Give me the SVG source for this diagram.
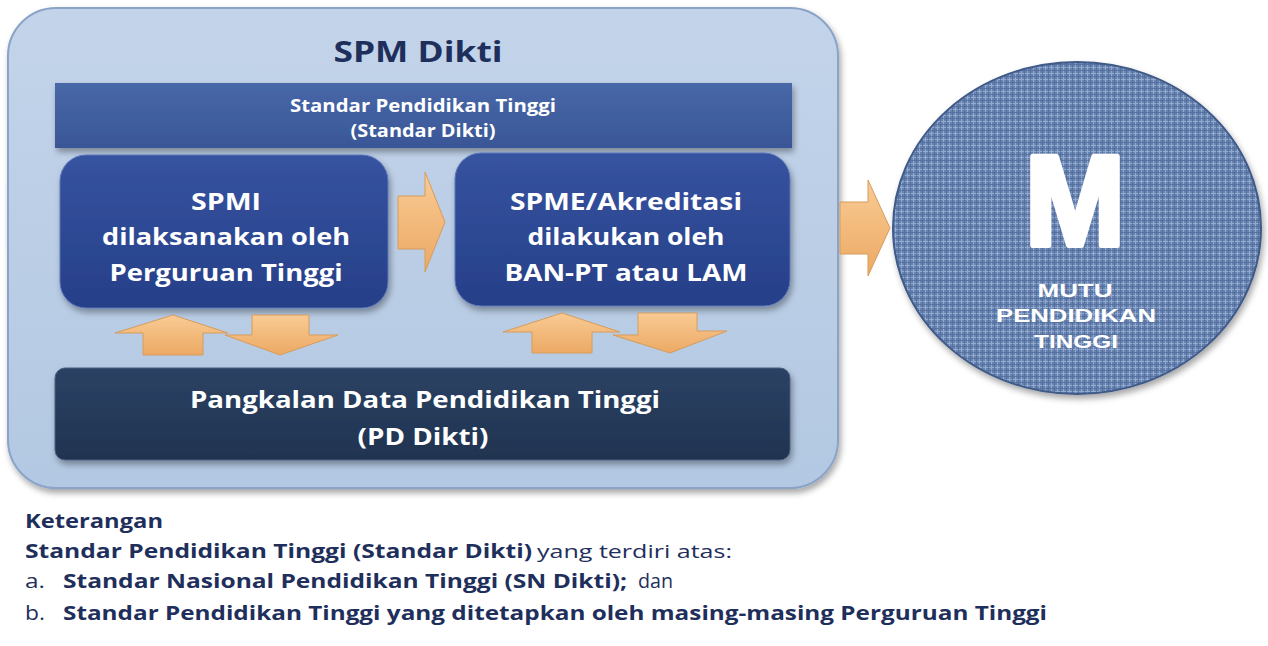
<svg xmlns="http://www.w3.org/2000/svg" width="1268" height="646" viewBox="0 0 1268 646">
<defs>
<style>
.t{font-family:"Open Sans","Noto Sans",sans-serif;font-weight:bold;fill:#fff}
.n{font-family:"Open Sans","Noto Sans",sans-serif;fill:#1f2f5c}
.b{font-weight:bold}
.arr{fill:url(#ag);stroke:#d69c5c;stroke-width:1}
</style>
<linearGradient id="og" x1="0" y1="0" x2="0" y2="1"><stop offset="0" stop-color="#c3d4ea"/><stop offset="1" stop-color="#b3c8e2"/></linearGradient>
<linearGradient id="bg" x1="0" y1="0" x2="0" y2="1"><stop offset="0" stop-color="#4868a8"/><stop offset="1" stop-color="#3a5696"/></linearGradient>
<linearGradient id="kg" x1="0" y1="0" x2="0" y2="1"><stop offset="0" stop-color="#3653a0"/><stop offset="1" stop-color="#263f88"/></linearGradient>
<linearGradient id="pg" x1="0" y1="0" x2="0" y2="1"><stop offset="0" stop-color="#2c4264"/><stop offset="1" stop-color="#1f3350"/></linearGradient>
<linearGradient id="ag" x1="0" y1="0" x2="0" y2="1"><stop offset="0" stop-color="#f9cb94"/><stop offset="1" stop-color="#eca964"/></linearGradient>
<pattern id="tex" width="6" height="6" patternUnits="userSpaceOnUse">
<rect width="6" height="6" fill="#6782b0"/>
<path d="M0 1.5H6M1.5 0V6" stroke="#93aad0" stroke-width="1"/>
<path d="M0 4.5H6M4.5 0V6" stroke="#526d9c" stroke-width="0.8"/>
</pattern>
<filter id="sh" x="-10%" y="-10%" width="120%" height="130%"><feDropShadow dx="2" dy="4" stdDeviation="3" flood-color="#000" flood-opacity="0.35"/></filter>
</defs>
<rect width="1268" height="646" fill="#fff"/>

<g id="spm-dikti">
<rect x="8" y="8" width="830" height="480" rx="48" fill="url(#og)" stroke="#8aa3c6" stroke-width="2" filter="url(#sh)"/>
<text x="418" y="62" text-anchor="middle" class="n b" font-size="29" textLength="169" lengthAdjust="spacingAndGlyphs">SPM Dikti</text>
</g>

<g id="standar-dikti">
<rect x="55" y="83" width="737" height="65" fill="url(#bg)" filter="url(#sh)"/>
<text x="423" y="112" text-anchor="middle" class="t" font-size="17" textLength="266" lengthAdjust="spacingAndGlyphs">Standar Pendidikan Tinggi</text>
<text x="423" y="137" text-anchor="middle" class="t" font-size="17" textLength="145" lengthAdjust="spacingAndGlyphs">(Standar Dikti)</text>
</g>

<g id="spmi">
<rect x="60" y="155" width="328" height="153" rx="26" fill="url(#kg)" stroke="#5a76b8" stroke-width="1" filter="url(#sh)"/>
<text x="226" y="210" text-anchor="middle" class="t" font-size="24" textLength="70" lengthAdjust="spacingAndGlyphs">SPMI</text>
<text x="226" y="245" text-anchor="middle" class="t" font-size="24" textLength="248" lengthAdjust="spacingAndGlyphs">dilaksanakan oleh</text>
<text x="226" y="281" text-anchor="middle" class="t" font-size="24" textLength="233" lengthAdjust="spacingAndGlyphs">Perguruan Tinggi</text>
</g>

<g id="spme">
<rect x="455" y="153" width="335" height="153" rx="26" fill="url(#kg)" stroke="#5a76b8" stroke-width="1" filter="url(#sh)"/>
<text x="626" y="210" text-anchor="middle" class="t" font-size="24" textLength="232" lengthAdjust="spacingAndGlyphs">SPME/Akreditasi</text>
<text x="626" y="245" text-anchor="middle" class="t" font-size="24" textLength="197" lengthAdjust="spacingAndGlyphs">dilakukan oleh</text>
<text x="626" y="281" text-anchor="middle" class="t" font-size="24" textLength="243" lengthAdjust="spacingAndGlyphs">BAN-PT atau LAM</text>
</g>

<g id="pd-dikti">
<rect x="55" y="368" width="735" height="92" rx="10" fill="url(#pg)" stroke="#4a5f80" stroke-width="1" filter="url(#sh)"/>
<text x="425" y="408" text-anchor="middle" class="t" font-size="24" textLength="470" lengthAdjust="spacingAndGlyphs">Pangkalan Data Pendidikan Tinggi</text>
<text x="423" y="445" text-anchor="middle" class="t" font-size="24" textLength="131" lengthAdjust="spacingAndGlyphs">(PD Dikti)</text>
</g>

<g id="mutu">
<ellipse cx="1077" cy="228" rx="184" ry="166" fill="url(#tex)" stroke="#3f5a88" stroke-width="2" filter="url(#sh)"/>
<text x="1075" y="245" text-anchor="middle" font-family="Liberation Sans,Arial,sans-serif" font-weight="bold" font-size="128" fill="#fff" stroke="#fff" stroke-width="6" stroke-linejoin="round" textLength="100" lengthAdjust="spacingAndGlyphs">M</text>
<text x="1075" y="297" text-anchor="middle" font-family="Liberation Sans,Arial,sans-serif" font-weight="bold" font-size="18" fill="#fff" textLength="75" lengthAdjust="spacingAndGlyphs">MUTU</text>
<text x="1076" y="322" text-anchor="middle" font-family="Liberation Sans,Arial,sans-serif" font-weight="bold" font-size="18" fill="#fff" textLength="160" lengthAdjust="spacingAndGlyphs">PENDIDIKAN</text>
<text x="1076" y="348" text-anchor="middle" font-family="Liberation Sans,Arial,sans-serif" font-weight="bold" font-size="18" fill="#fff" textLength="84" lengthAdjust="spacingAndGlyphs">TINGGI</text>
</g>

<g id="connectors">
<path class="arr" d="M398 196H425V172L445 222L425 272V249H398Z"/>
<path class="arr" d="M840 202H868V180L890 228L868 276V254H840Z"/>
<path class="arr" d="M143 355V333H115L173 315L228 333H203V355Z"/>
<path class="arr" d="M252 315H309V335H338L280 355L225 335H252Z"/>
<path class="arr" d="M532 353V332H503L562 313L620 332H592V353Z"/>
<path class="arr" d="M638 313H697V331H727L670 353L613 335H638Z"/>
</g>

<g id="legend">
<text x="25" y="528" class="n b" font-size="19" textLength="138" lengthAdjust="spacingAndGlyphs">Keterangan</text>
<text x="25" y="558" class="n b" font-size="19" textLength="507" lengthAdjust="spacingAndGlyphs">Standar Pendidikan Tinggi (Standar Dikti)</text>
<text x="537" y="558" class="n" font-size="19" textLength="195" lengthAdjust="spacingAndGlyphs">yang terdiri atas:</text>
<text x="25" y="588" class="n" font-size="20" textLength="20" lengthAdjust="spacingAndGlyphs">a.</text>
<text x="63" y="588" class="n b" font-size="19" textLength="564" lengthAdjust="spacingAndGlyphs">Standar Nasional Pendidikan Tinggi (SN Dikti);</text>
<text x="638" y="588" class="n" font-size="20" textLength="35" lengthAdjust="spacingAndGlyphs">dan</text>
<text x="25" y="620" class="n" font-size="20" textLength="20" lengthAdjust="spacingAndGlyphs">b.</text>
<text x="63" y="620" class="n b" font-size="19" textLength="984" lengthAdjust="spacingAndGlyphs">Standar Pendidikan Tinggi yang ditetapkan oleh masing-masing Perguruan Tinggi</text>
</g>
</svg>
